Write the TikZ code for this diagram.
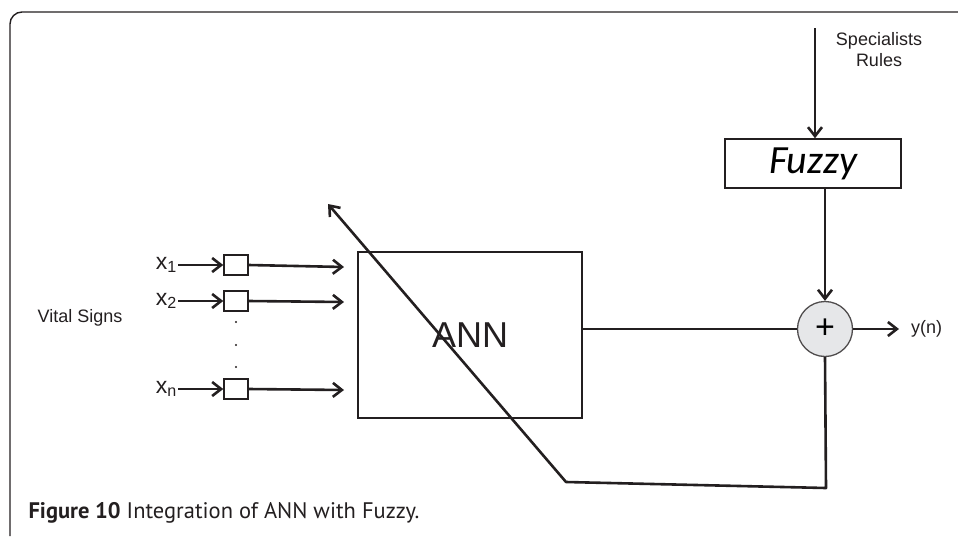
\documentclass[tikz,border=0pt]{standalone}
\usepackage{fontspec}
\setmainfont{Liberation Sans}
\newfontfamily\fuzzyfont{Carlito}
\newfontfamily\captionfont{PT Sans}
\usetikzlibrary{arrows.meta, positioning}
\definecolor{sumgray}{HTML}{E6E7E9}
\definecolor{inkgray}{HTML}{231F20}
\tikzset{
  >={Straight Barb[length=9pt, width=14pt]}, % open barbed arrow heads
  signal/.style={->, line width=2.6pt, line join=round, inkgray}, % directed connectors
  link/.style={line width=2.4pt, inkgray}, % plain connectors
  block/.style={draw=inkgray, line width=1.5pt, inner sep=0pt}, % rectangular blocks
  txt/.style={font=\fontsize{18}{21}\selectfont, text=inkgray, align=center, inner sep=1pt},
  xin/.style={txt, font=\fontsize{23}{25}\selectfont, anchor=east},
  tap/.style={block, minimum width=24pt, minimum height=20pt},
}

\begin{document}
\begin{tikzpicture}[x=1pt, y=-1pt]
    \useasboundingbox (0,0) rectangle (958,536);
    \draw[line width=1.4pt, inkgray, rounded corners=12pt] (958,12) -- (10,12) -- (10,536);

    % inputs
    \node[txt] (vital) at (80,318) {Vital Signs};
    \node[xin] (x1) at (178,265) {x\textsubscript{1}};
    \node[xin] (x2) at (178,301) {x\textsubscript{2}};
    \node[xin] (xn) at (178,389) {x\textsubscript{n}};
    \node[tap] (b1) at (236,265) {};
    \node[tap] (b2) at (236,301) {};
    \node[tap] (bn) at (236,389) {};
    \foreach \y in {322,345,367}
        \fill[inkgray] (236,\y) circle (1.2pt);

    % blocks
    \node[block, minimum width=224pt, minimum height=166pt, txt, font=\fontsize{36}{40}\selectfont] (ann) at (470,335) {ANN};
    \node[block, minimum width=176pt, minimum height=49pt, font=\fuzzyfont\itshape\fontsize{40}{44}\selectfont] (fuzzy) at (813,163.5) {Fuzzy};
    \node[circle, draw=inkgray!80, line width=1.3pt, fill=sumgray, minimum size=55pt, inner sep=0pt, font=\fontsize{34}{36}\selectfont] (sum) at (825,329) {+};
    \node[txt] (spec) at (879,50) {Specialists\\Rules};
    \node[txt, anchor=west, inner xsep=12pt] (yn) at (899,329) {y(n)};

    \coordinate (src) at (815,28);
    \coordinate (o1) at (344,267);
    \coordinate (o2) at (344,302);
    \coordinate (on) at (344,390);
    \coordinate (fb1) at (826,488);
    \coordinate (fb2) at (566,482);
    \coordinate (fb3) at (328,204);

    \draw[signal] (x1) -- (b1.west);
    \draw[signal] (x2) -- (b2.west);
    \draw[signal] (xn) -- (bn.west);
    \draw[signal] (b1.east) -- (o1);
    \draw[signal] (b2.east) -- (o2);
    \draw[signal] (bn.east) -- (on);

    \draw[signal] (src) -- (src |- fuzzy.north);
    \draw[signal] (fuzzy.south -| sum.north) -- (sum.north);
    \draw[link] (ann.east |- sum.west) -- (sum.west);
    \draw[signal] (sum.east) -- (yn.west);
    \draw[signal] (sum.south) -- (fb1) -- (fb2) -- (fb3);

    \node[anchor=west, text=inkgray, font=\captionfont\fontsize{22.5}{25}\selectfont] (caption) at (25,513) {\textbf{Figure 10} Integration of ANN with Fuzzy.};
\end{tikzpicture}
\end{document}
